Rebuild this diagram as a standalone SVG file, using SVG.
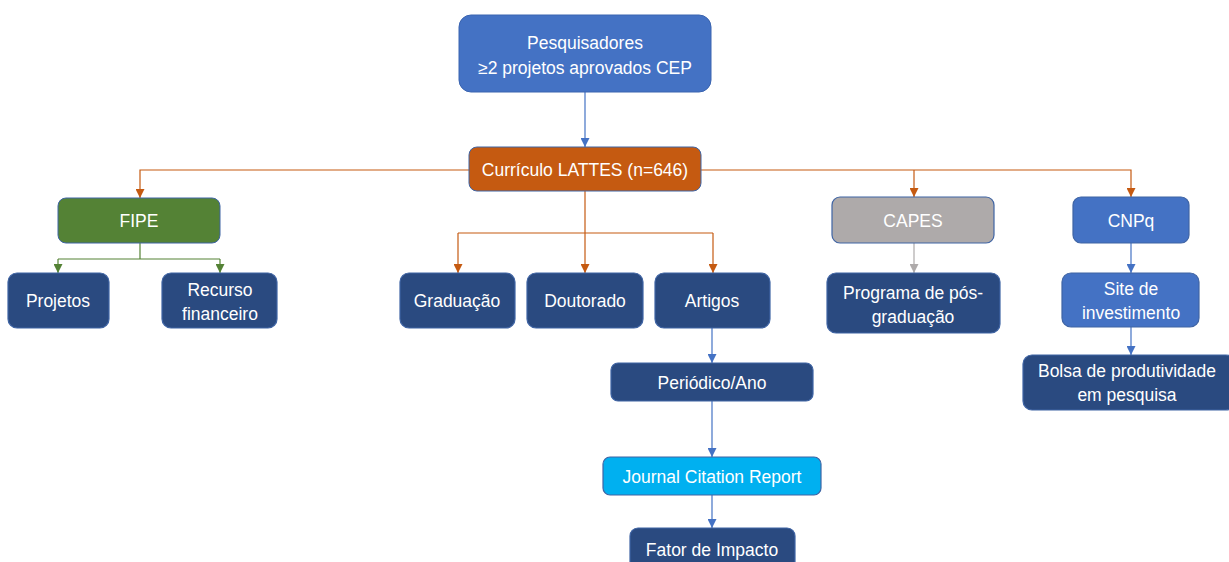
<svg xmlns="http://www.w3.org/2000/svg" width="1229" height="562" viewBox="0 0 1229 562">
<defs>
<style>
.t{font-family:"Liberation Sans",Arial,sans-serif;font-size:17.5px;fill:#fff;text-anchor:middle;dominant-baseline:central}
.n{fill:#2A4A80;stroke:#3F64A4;stroke-width:1.2}
.c{fill:none;stroke-width:1.2}
.o{stroke:#C55A11}.b{stroke:#4472C4}.g{stroke:#548235}.y{stroke:#AEAAAA}
</style>
<marker id="ao" viewBox="0 0 10 10" refX="10" refY="5" markerWidth="9" markerHeight="9" markerUnits="userSpaceOnUse" orient="auto"><path d="M0,0L10,5L0,10z" fill="#C55A11"/></marker>
<marker id="ab" viewBox="0 0 10 10" refX="10" refY="5" markerWidth="9" markerHeight="9" markerUnits="userSpaceOnUse" orient="auto"><path d="M0,0L10,5L0,10z" fill="#4472C4"/></marker>
<marker id="ag" viewBox="0 0 10 10" refX="10" refY="5" markerWidth="9" markerHeight="9" markerUnits="userSpaceOnUse" orient="auto"><path d="M0,0L10,5L0,10z" fill="#548235"/></marker>
<marker id="ay" viewBox="0 0 10 10" refX="10" refY="5" markerWidth="9" markerHeight="9" markerUnits="userSpaceOnUse" orient="auto"><path d="M0,0L10,5L0,10z" fill="#AEAAAA"/></marker>
</defs>
<rect width="1229" height="562" fill="#fff"/>
<g id="connectors">
<path class="c b" d="M585,92V147" marker-end="url(#ab)"/>
<path class="c o" d="M469,170H140V198" marker-end="url(#ao)"/>
<path class="c o" d="M701,170H1131V197" marker-end="url(#ao)"/>
<path class="c o" d="M914,170V197" marker-end="url(#ao)"/>
<path class="c o" d="M585,191V273" marker-end="url(#ao)"/>
<path class="c o" d="M458,233H713"/>
<path class="c o" d="M458,233V273" marker-end="url(#ao)"/>
<path class="c o" d="M713,233V273" marker-end="url(#ao)"/>
<path class="c g" d="M140,243V259"/>
<path class="c g" d="M58,259H220"/>
<path class="c g" d="M58,259V273" marker-end="url(#ag)"/>
<path class="c g" d="M220,259V273" marker-end="url(#ag)"/>
<path class="c y" d="M914,243V273" marker-end="url(#ay)"/>
<path class="c b" d="M1131,243V273" marker-end="url(#ab)"/>
<path class="c b" d="M1131,327V355" marker-end="url(#ab)"/>
<path class="c b" d="M712,328V363" marker-end="url(#ab)"/>
<path class="c b" d="M712,401V457" marker-end="url(#ab)"/>
<path class="c b" d="M712,495V528" marker-end="url(#ab)"/>
</g>
<g id="pesquisadores"><rect x="459" y="15" width="252" height="77" rx="12" fill="#4472C4" stroke="#3A64B0"/><text class="t" x="585" y="43">Pesquisadores</text><text class="t" x="585" y="68">≥2 projetos aprovados CEP</text></g>
<g id="lattes"><rect x="469" y="147" width="232" height="44" rx="8" fill="#C55A11" stroke="#3F64A4"/><text class="t" x="585" y="170">Currículo LATTES (n=646)</text></g>
<g id="fipe"><rect x="58" y="198" width="162" height="45" rx="8" fill="#548235" stroke="#3F64A4"/><text class="t" x="139" y="221">FIPE</text></g>
<g id="projetos"><rect class="n" x="8" y="273" width="101" height="55" rx="9"/><text class="t" x="58" y="301">Projetos</text></g>
<g id="recurso"><rect class="n" x="162" y="273" width="115" height="55" rx="9"/><text class="t" x="220" y="290">Recurso</text><text class="t" x="220" y="314">financeiro</text></g>
<g id="graduacao"><rect class="n" x="400" y="273" width="115" height="55" rx="9"/><text class="t" x="457" y="301">Graduação</text></g>
<g id="doutorado"><rect class="n" x="527" y="273" width="116" height="55" rx="9"/><text class="t" x="585" y="301">Doutorado</text></g>
<g id="artigos"><rect class="n" x="655" y="273" width="115" height="55" rx="9"/><text class="t" x="712" y="301">Artigos</text></g>
<g id="periodico"><rect class="n" x="611" y="363" width="202" height="38" rx="7"/><text class="t" x="712" y="383">Periódico/Ano</text></g>
<g id="jcr"><rect x="603" y="457" width="218" height="38" rx="7" fill="#00B0F0" stroke="#3F64A4" stroke-width="1.2"/><text class="t" x="712" y="477">Journal Citation Report</text></g>
<g id="fator"><rect class="n" x="630" y="528" width="165" height="44" rx="8"/><text class="t" x="712" y="550">Fator de Impacto</text></g>
<g id="capes"><rect x="832" y="197" width="162" height="46" rx="8" fill="#AEAAAA" stroke="#3F64A4" stroke-width="1.2"/><text class="t" x="913" y="221">CAPES</text></g>
<g id="programa"><rect class="n" x="827" y="273" width="173" height="60" rx="9"/><text class="t" x="913" y="293">Programa de pós-</text><text class="t" x="913" y="317">graduação</text></g>
<g id="cnpq"><rect x="1073" y="197" width="116" height="46" rx="8" fill="#4472C4" stroke="#3F64A4" stroke-width="1.2"/><text class="t" x="1131" y="221">CNPq</text></g>
<g id="site"><rect x="1062" y="273" width="137" height="54" rx="9" fill="#4472C4" stroke="#3F64A4" stroke-width="1.2"/><text class="t" x="1131" y="289">Site de</text><text class="t" x="1131" y="313">investimento</text></g>
<g id="bolsa"><rect class="n" x="1023" y="355" width="212" height="55" rx="9"/><text class="t" x="1127" y="371">Bolsa de produtividade</text><text class="t" x="1127" y="395">em pesquisa</text></g>
</svg>
